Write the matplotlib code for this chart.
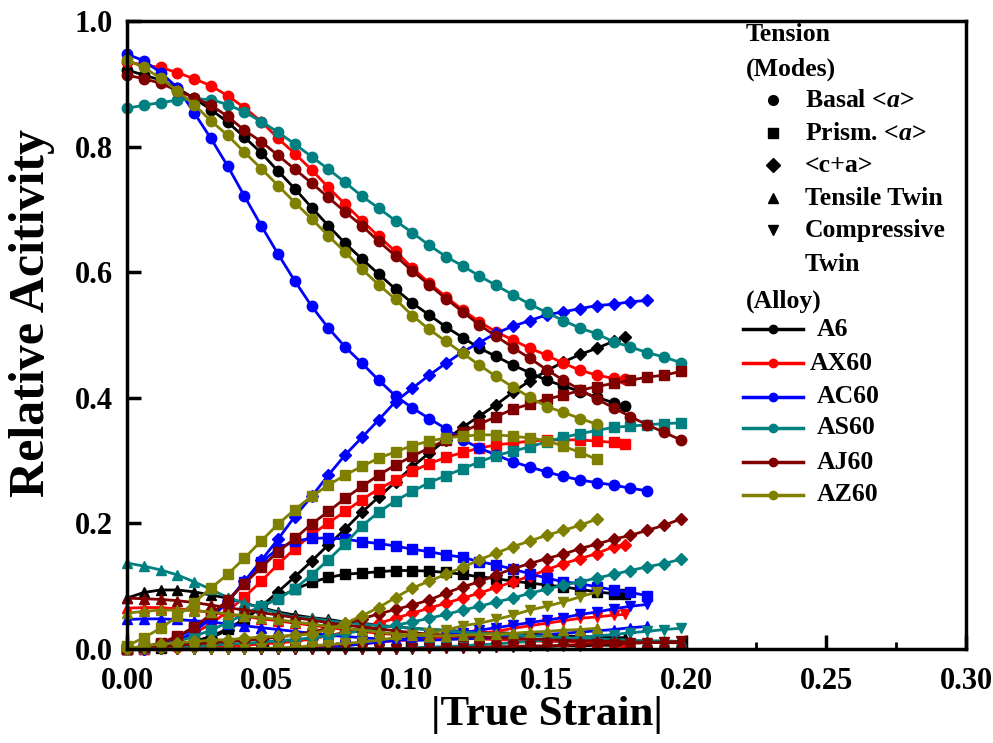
import numpy as np
import matplotlib
matplotlib.use('Agg')
import matplotlib.pyplot as plt
from matplotlib.ticker import MultipleLocator

plt.rcParams['font.family'] = ['Liberation Serif', 'DejaVu Serif']
plt.rcParams['font.weight'] = 'bold'
plt.rcParams['mathtext.fontset'] = 'custom'
plt.rcParams['mathtext.it'] = 'Liberation Serif:italic:bold'
plt.rcParams['mathtext.rm'] = 'Liberation Serif:bold'

# strain grid: step 0.006, A6 / AX60 end with an extra point at 0.178
step = 0.006
x_a6 = list(np.round(np.arange(30) * step, 3)) + [0.178]
x_ax60 = list(x_a6)
x_ac60 = list(np.round(np.arange(32) * step, 3))
x_as60 = list(np.round(np.arange(34) * step, 3))
x_aj60 = list(x_as60)
x_az60 = list(np.round(np.arange(29) * step, 3))

# ---- A6 ----
a6_basal = [0.922, 0.914, 0.906, 0.893, 0.877, 0.859, 0.839, 0.815, 0.790, 0.761, 0.733, 0.703, 0.674, 0.646, 0.621, 0.597,
            0.573, 0.551, 0.532, 0.513, 0.496, 0.479, 0.466, 0.452, 0.440, 0.428, 0.419, 0.410, 0.401, 0.392, 0.387]
a6_prism = [0.0, 0.0, 0.002, 0.006, 0.012, 0.020, 0.032, 0.048, 0.066, 0.082, 0.095, 0.106, 0.114, 0.119, 0.121, 0.123,
            0.125, 0.125, 0.124, 0.122, 0.119, 0.115, 0.112, 0.108, 0.105, 0.102, 0.099, 0.095, 0.091, 0.088, 0.087]
a6_ca = [0.0, 0.0, 0.001, 0.004, 0.010, 0.018, 0.030, 0.047, 0.068, 0.091, 0.115, 0.140, 0.166, 0.191, 0.218, 0.242,
         0.266, 0.290, 0.312, 0.333, 0.353, 0.371, 0.389, 0.409, 0.427, 0.443, 0.457, 0.469, 0.479, 0.490, 0.497]
a6_ttwin = [0.081, 0.090, 0.094, 0.094, 0.091, 0.086, 0.081, 0.073, 0.066, 0.059, 0.054, 0.050, 0.047, 0.043, 0.041, 0.038,
            0.035, 0.033, 0.031, 0.030, 0.028, 0.027, 0.026, 0.025, 0.024, 0.022, 0.021, 0.020, 0.019, 0.018, 0.018]
a6_ctwin = [0.0] * 18 + [0.001, 0.001, 0.002, 0.002, 0.003, 0.003, 0.004, 0.004, 0.005, 0.005, 0.006, 0.006, 0.006]

# ---- AX60 ----
ax60_basal = [0.935, 0.930, 0.926, 0.918, 0.908, 0.897, 0.881, 0.862, 0.840, 0.813, 0.789, 0.763, 0.735, 0.708, 0.682, 0.657,
              0.633, 0.607, 0.583, 0.561, 0.540, 0.521, 0.505, 0.492, 0.479, 0.468, 0.455, 0.444, 0.436, 0.431, 0.430]
ax60_prism = [0.0, 0.0, 0.005, 0.012, 0.025, 0.040, 0.060, 0.083, 0.108, 0.135, 0.160, 0.182, 0.201, 0.219, 0.238, 0.255,
              0.269, 0.283, 0.295, 0.305, 0.313, 0.320, 0.325, 0.328, 0.331, 0.333, 0.333, 0.333, 0.331, 0.329, 0.326]
ax60_ca = [0.0, 0.0, 0.001, 0.002, 0.003, 0.004, 0.005, 0.006, 0.008, 0.010, 0.012, 0.016, 0.021, 0.027, 0.034, 0.041,
           0.049, 0.057, 0.065, 0.073, 0.081, 0.089, 0.098, 0.107, 0.116, 0.126, 0.136, 0.144, 0.152, 0.163, 0.166]
ax60_ttwin = [0.065, 0.066, 0.066, 0.064, 0.062, 0.058, 0.055, 0.052, 0.048, 0.045, 0.041, 0.038, 0.034, 0.031, 0.028, 0.025,
              0.023, 0.021, 0.019, 0.018, 0.017, 0.016, 0.015, 0.014, 0.013, 0.012, 0.012, 0.011, 0.011, 0.010, 0.010]
ax60_ctwin = [0.0] * 11 + [0.002, 0.004, 0.006, 0.008, 0.011, 0.013, 0.015, 0.018, 0.020, 0.022, 0.025, 0.028, 0.033,
                           0.037, 0.041, 0.045, 0.049, 0.051, 0.054, 0.055]

# ---- AC60 ----
ac60_basal = [0.947, 0.937, 0.918, 0.894, 0.854, 0.813, 0.769, 0.721, 0.674, 0.629, 0.586, 0.546, 0.511, 0.481, 0.455, 0.428,
              0.403, 0.384, 0.367, 0.351, 0.333, 0.320, 0.309, 0.298, 0.290, 0.282, 0.275, 0.269, 0.265, 0.261, 0.256, 0.252]
ac60_prism = [0.0, 0.003, 0.008, 0.018, 0.033, 0.051, 0.075, 0.107, 0.138, 0.160, 0.172, 0.176, 0.177, 0.175, 0.171, 0.168,
              0.164, 0.159, 0.155, 0.150, 0.146, 0.139, 0.134, 0.127, 0.120, 0.113, 0.107, 0.104, 0.099, 0.094, 0.090, 0.085]
ac60_ca = [0.0, 0.0, 0.004, 0.012, 0.028, 0.048, 0.076, 0.108, 0.141, 0.175, 0.211, 0.243, 0.277, 0.309, 0.337, 0.365,
           0.394, 0.415, 0.436, 0.455, 0.473, 0.488, 0.503, 0.514, 0.523, 0.532, 0.537, 0.542, 0.547, 0.549, 0.553, 0.555]
ac60_ttwin = [0.047, 0.048, 0.048, 0.047, 0.045, 0.043, 0.040, 0.037, 0.034, 0.031, 0.028, 0.025, 0.022, 0.020, 0.018, 0.016,
              0.015, 0.014, 0.014, 0.015, 0.016, 0.017, 0.018, 0.020, 0.021, 0.023, 0.025, 0.027, 0.029, 0.031, 0.034, 0.036]
ac60_ctwin = [0.0] * 12 + [0.002, 0.005, 0.008, 0.011, 0.014, 0.017, 0.020, 0.023, 0.026, 0.030, 0.034, 0.038, 0.042,
                           0.046, 0.050, 0.055, 0.059, 0.064, 0.068, 0.071]

# ---- AS60 ----
as60_basal = [0.861, 0.866, 0.870, 0.874, 0.876, 0.875, 0.867, 0.855, 0.840, 0.823, 0.804, 0.784, 0.764, 0.743, 0.721, 0.702,
              0.682, 0.663, 0.643, 0.625, 0.610, 0.594, 0.579, 0.564, 0.549, 0.536, 0.523, 0.511, 0.502, 0.489, 0.481, 0.472,
              0.465, 0.456]
as60_prism = [0.0, 0.002, 0.006, 0.012, 0.020, 0.030, 0.042, 0.056, 0.068, 0.080, 0.096, 0.118, 0.142, 0.168, 0.196, 0.218,
              0.236, 0.251, 0.265, 0.276, 0.287, 0.298, 0.308, 0.315, 0.322, 0.330, 0.337, 0.343, 0.348, 0.353, 0.355, 0.357,
              0.359, 0.360]
as60_ca = [0.0, 0.001, 0.002, 0.004, 0.005, 0.006, 0.008, 0.009, 0.011, 0.013, 0.015, 0.018, 0.021, 0.025, 0.029, 0.033,
           0.038, 0.043, 0.049, 0.055, 0.062, 0.068, 0.075, 0.081, 0.089, 0.095, 0.102, 0.107, 0.113, 0.119, 0.125, 0.131,
           0.136, 0.143]
as60_ttwin = [0.137, 0.132, 0.126, 0.118, 0.107, 0.095, 0.082, 0.073, 0.065, 0.057, 0.051, 0.049, 0.045, 0.042, 0.040, 0.037,
              0.035, 0.033, 0.031, 0.029, 0.027, 0.025, 0.024, 0.022, 0.021, 0.020, 0.018, 0.017, 0.016, 0.015, 0.014, 0.013,
              0.013, 0.012]
as60_ctwin = [0.0] * 17 + [0.002, 0.003, 0.004, 0.005, 0.007, 0.008, 0.010, 0.012, 0.014, 0.016, 0.018, 0.021, 0.023,
                           0.026, 0.028, 0.031, 0.033]

# ---- AJ60 ----
aj60_basal = [0.914, 0.908, 0.901, 0.889, 0.878, 0.866, 0.848, 0.826, 0.808, 0.786, 0.764, 0.742, 0.719, 0.696, 0.674, 0.649,
              0.626, 0.602, 0.580, 0.558, 0.537, 0.516, 0.498, 0.480, 0.463, 0.445, 0.428, 0.413, 0.398, 0.384, 0.370, 0.357,
              0.345, 0.333]
aj60_prism = [0.0, 0.003, 0.010, 0.020, 0.035, 0.055, 0.078, 0.104, 0.130, 0.155, 0.176, 0.199, 0.219, 0.240, 0.259, 0.277,
              0.293, 0.307, 0.320, 0.333, 0.346, 0.358, 0.370, 0.382, 0.390, 0.398, 0.404, 0.412, 0.418, 0.423, 0.428, 0.433,
              0.436, 0.442]
aj60_ca = [0.0, 0.002, 0.004, 0.006, 0.008, 0.010, 0.012, 0.014, 0.016, 0.019, 0.022, 0.027, 0.033, 0.040, 0.048, 0.056,
           0.063, 0.070, 0.078, 0.089, 0.099, 0.107, 0.118, 0.128, 0.136, 0.144, 0.151, 0.160, 0.167, 0.175, 0.181, 0.189,
           0.197, 0.207]
aj60_ttwin = [0.081, 0.080, 0.079, 0.077, 0.074, 0.070, 0.066, 0.062, 0.058, 0.054, 0.050, 0.046, 0.042, 0.038, 0.035, 0.032,
              0.029, 0.026, 0.024, 0.022, 0.020, 0.019, 0.018, 0.017, 0.016, 0.015, 0.014, 0.013, 0.013, 0.012, 0.011, 0.011,
              0.010, 0.010]
aj60_ctwin = [0.0] * 17 + [0.001, 0.001, 0.002, 0.002, 0.003, 0.003, 0.004, 0.005, 0.005, 0.006, 0.007, 0.008, 0.008,
                           0.009, 0.010, 0.011, 0.012]

# ---- AZ60 ----
az60_basal = [0.938, 0.926, 0.909, 0.889, 0.867, 0.841, 0.818, 0.791, 0.765, 0.738, 0.711, 0.685, 0.658, 0.632, 0.605, 0.580,
              0.557, 0.531, 0.509, 0.490, 0.471, 0.452, 0.434, 0.417, 0.401, 0.386, 0.377, 0.367, 0.358]
az60_prism = [0.005, 0.018, 0.033, 0.052, 0.074, 0.097, 0.119, 0.145, 0.172, 0.199, 0.222, 0.243, 0.261, 0.277, 0.291, 0.304,
              0.314, 0.324, 0.331, 0.336, 0.339, 0.341, 0.341, 0.339, 0.336, 0.332, 0.323, 0.313, 0.302]
az60_ca = [0.0, 0.005, 0.008, 0.010, 0.012, 0.014, 0.015, 0.017, 0.019, 0.020, 0.022, 0.024, 0.031, 0.041, 0.053, 0.066,
           0.082, 0.097, 0.108, 0.119, 0.130, 0.142, 0.153, 0.163, 0.172, 0.181, 0.189, 0.197, 0.207]
az60_ttwin = [0.057, 0.060, 0.062, 0.062, 0.061, 0.059, 0.056, 0.053, 0.050, 0.047, 0.043, 0.040, 0.036, 0.033, 0.030, 0.027,
              0.024, 0.022, 0.021, 0.021, 0.022, 0.023, 0.024, 0.025, 0.027, 0.028, 0.030, 0.031, 0.033]
az60_ctwin = [0.0] * 8 + [0.001, 0.002, 0.003, 0.005, 0.007, 0.009, 0.011, 0.014, 0.018, 0.022, 0.025, 0.030, 0.037, 0.041,
                          0.047, 0.054, 0.062, 0.068, 0.075, 0.083, 0.091]

alloys = ['A6', 'AX60', 'AC60', 'AS60', 'AJ60', 'AZ60']
colors = ['black', 'red', 'blue', '#008080', '#800000', '#808000']
strains = [x_a6, x_ax60, x_ac60, x_as60, x_aj60, x_az60]
modes = [
    [a6_basal, a6_prism, a6_ca, a6_ttwin, a6_ctwin],
    [ax60_basal, ax60_prism, ax60_ca, ax60_ttwin, ax60_ctwin],
    [ac60_basal, ac60_prism, ac60_ca, ac60_ttwin, ac60_ctwin],
    [as60_basal, as60_prism, as60_ca, as60_ttwin, as60_ctwin],
    [aj60_basal, aj60_prism, aj60_ca, aj60_ttwin, aj60_ctwin],
    [az60_basal, az60_prism, az60_ca, az60_ttwin, az60_ctwin],
]
mode_names = ['Basal <$a$>', 'Prism. <$a$>', '<c+a>', 'Tensile Twin', 'Compressive']
mode_markers = ['o', 's', 'D', '^', 'v']
mode_ms = [7.5, 7, 6, 7.5, 7.5]

fig = plt.figure(figsize=(9.93, 7.43), dpi=100)
ax = fig.add_axes([0.1279, 0.1265, 0.845, 0.8452])

for xs, col, series in zip(strains, colors, modes):
    for ys, mk, ms in zip(series, mode_markers, mode_ms):
        ax.plot(xs, ys, color=col, marker=mk, markersize=ms, linewidth=2.0, clip_on=False)

ax.set_xlim(0, 0.30)
ax.set_ylim(0, 1.0)
ax.xaxis.set_major_locator(MultipleLocator(0.05))
ax.xaxis.set_minor_locator(MultipleLocator(0.025))
ax.yaxis.set_major_locator(MultipleLocator(0.2))
ax.xaxis.set_major_formatter(plt.FormatStrFormatter('%.2f'))
ax.yaxis.set_major_formatter(plt.FormatStrFormatter('%.1f'))
ax.tick_params(axis='both', which='major', direction='in', length=10, width=2.5, labelsize=22,
               top=False, right=False)
ax.tick_params(axis='x', which='major', pad=13)
ax.tick_params(axis='y', which='major', pad=10)
ax.tick_params(axis='x', which='minor', direction='in', length=5, width=2, top=False)
for s in ax.spines.values():
    s.set_linewidth(2.5)
    s.set_zorder(5)

ax.set_xlabel('|True Strain|', fontsize=31, fontweight='bold', labelpad=0)
ax.set_ylabel('Relative Acitivity', fontsize=36, fontweight='bold')
ax.yaxis.set_label_coords(-0.086, 0.535)

# legend drawn by hand in axes coordinates
tx = 0.737
fs = 18.5
ax.text(tx, 0.978, 'Tension', transform=ax.transAxes, fontsize=fs, fontweight='bold', va='center', ha='left')
ax.text(tx, 0.923, '(Modes)', transform=ax.transAxes, fontsize=fs, fontweight='bold', va='center', ha='left')
mode_y = [0.874, 0.821, 0.770, 0.718, 0.667]
for name, mk, yy in zip(mode_names, mode_markers, mode_y):
    ax.plot([0.770], [yy], marker=mk, color='black', markersize=7, linestyle='none',
            transform=ax.transAxes, clip_on=False)
    ax.text(0.808, yy, name, transform=ax.transAxes, fontsize=fs, fontweight='bold',
            va='center', ha='left')
ax.text(0.808, 0.613, 'Twin', transform=ax.transAxes, fontsize=fs, fontweight='bold', va='center', ha='left')
ax.text(tx, 0.554, '(Alloy)', transform=ax.transAxes, fontsize=fs, fontweight='bold', va='center', ha='left')
alloy_y = [0.509, 0.455, 0.402, 0.352, 0.297, 0.246]
for name, col, yy in zip(alloys, colors, alloy_y):
    ax.plot([0.734, 0.806], [yy, yy], color=col, linewidth=2.5,
            transform=ax.transAxes, clip_on=False)
    ax.plot([0.770], [yy], color=col, marker='o', markersize=6,
            transform=ax.transAxes, clip_on=False)
    ax.text(0.822 if name != 'AX60' else 0.814, yy, name, transform=ax.transAxes, fontsize=fs,
            fontweight='bold', va='center', ha='left')

fig.savefig('out.png', dpi=100)
